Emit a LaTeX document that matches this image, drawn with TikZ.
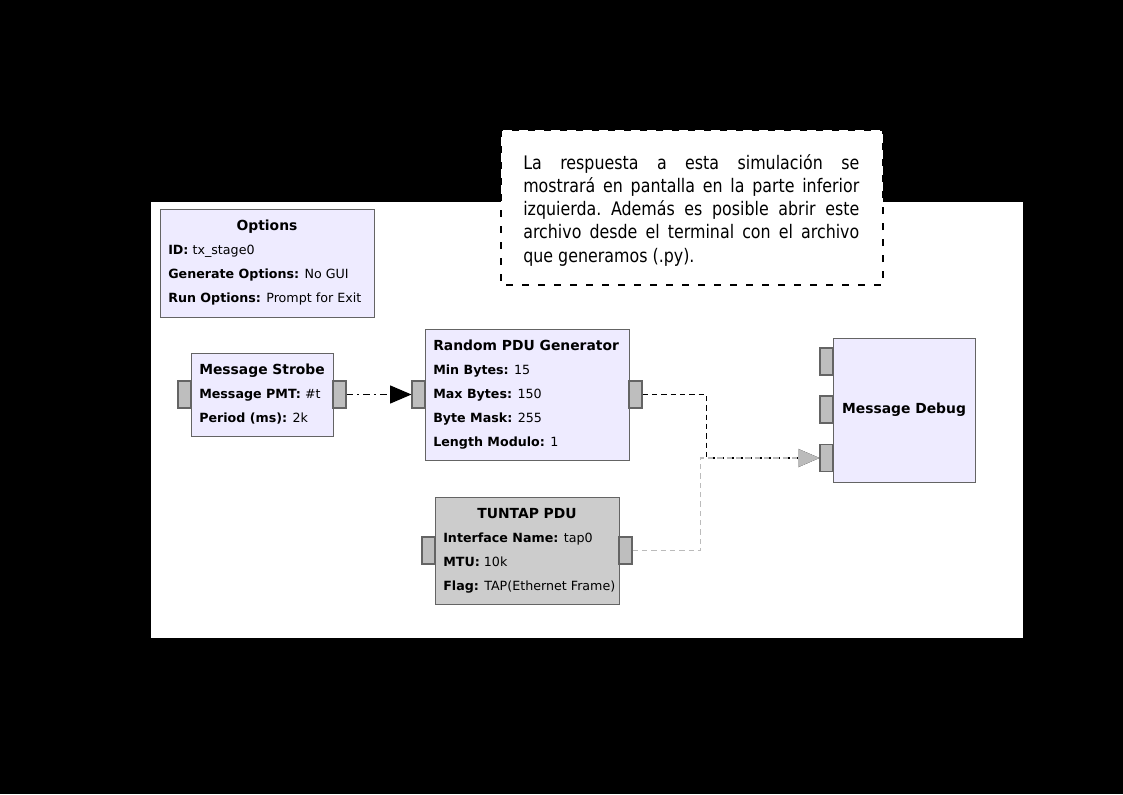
\documentclass[tikz,border=0pt]{standalone}
\usepackage{fontspec}
\setmainfont{DejaVu Sans}
\newfontfamily\notefont[FakeStretch=0.85]{DejaVu Sans}
\usetikzlibrary{arrows.meta,positioning}

\definecolor{blockfill}{RGB}{238,235,255}
\definecolor{tapfill}{RGB}{204,204,204}
\definecolor{portfill}{RGB}{190,190,190}
\definecolor{edgegray}{RGB}{100,100,100}
\definecolor{linkgray}{RGB}{187,187,187}

\begin{document}
\begin{tikzpicture}[x=0.75pt,y=-0.75pt,
		block/.style={draw=edgegray,fill=blockfill,line width=0.9pt,anchor=north west,inner sep=0pt},
		port/.style={draw=edgegray,fill=portfill,line width=0.8pt,minimum width=9.75pt,minimum height=20.25pt,inner sep=0pt},
		param/.style={anchor=base west,inner sep=0pt,font=\fontsize{9.5}{11}\selectfont},
		title/.style={anchor=base west,inner sep=0pt,font=\bfseries\fontsize{10.4}{12}\selectfont},
		tip/.style={-{Triangle[length=16pt,width=13.5pt]}}]
			% page and canvas
			\fill[black] (0,0) rectangle (1123,794);
			\fill[white] (151,202) rectangle (1023,638);
			\useasboundingbox (0,0) rectangle (1123,794);
			
			% blocks
			\node[block,minimum width=160.5pt,minimum height=81pt] (options) at (160,209) {};
			\node[block,minimum width=106.5pt,minimum height=62.25pt] (strobe) at (191,353) {};
			\node[block,minimum width=153pt,minimum height=98.25pt] (gen) at (425,329) {};
			\node[block,fill=tapfill,minimum width=138pt,minimum height=80.25pt] (tap) at (435,497) {};
			\node[block,minimum width=106.5pt,minimum height=108pt] (dbg) at (833,338) {};
			
			% ports
			\node[port] (strobein) at (184.5,394.5) {};
			\node[port] (strobeout) at (339.5,394.5) {};
			\node[port] (genin) at (418.5,394.5) {};
			\node[port] (genout) at (635.5,394.5) {};
			\node[port] (tapin) at (428.5,550.5) {};
			\node[port] (tapout) at (625.5,550.5) {};
			\node[port] (dbga) at (826.5,361.5) {};
			\node[port] (dbgb) at (826.5,409.5) {};
			\node[port] (dbgc) at (826.5,458) {};
			
			% texts
			\node[title,anchor=base] (optionstitle) at (267,230) {Options};
			\node[param] (optionsid) at (168,254) {\textbf{ID:} tx\_stage0};
			\node[param] (optionsgen) at (168,278) {\textbf{Generate Options:} No GUI};
			\node[param] (optionsrun) at (168,302) {\textbf{Run Options:} Prompt for Exit};
			
			\node[title] (strobetitle) at (199,374) {Message Strobe};
			\node[param] (strobepmt) at (199,398) {\textbf{Message PMT:} \#t};
			\node[param] (strobeper) at (199,422) {\textbf{Period (ms):} 2k};
			
			\node[title] (gentitle) at (433,350) {Random PDU Generator};
			\node[param] (genmin) at (433,374) {\textbf{Min Bytes:} 15};
			\node[param] (genmax) at (433,398) {\textbf{Max Bytes:} 150};
			\node[param] (genmask) at (433,422) {\textbf{Byte Mask:} 255};
			\node[param] (genmod) at (433,446) {\textbf{Length Modulo:} 1};
			
			\node[title,anchor=base] (taptitle) at (527,518) {TUNTAP PDU};
			\node[param] (tapname) at (443,542) {\textbf{Interface Name:} tap0};
			\node[param] (tapmtu) at (443,566) {\textbf{MTU:} 10k};
			\node[param] (tapflag) at (443,590) {\textbf{Flag:} TAP(Ethernet Frame)};
			
			\node[title,anchor=base] (dbgtitle) at (904,413) {Message Debug};
			
			% connections
			\draw[tip,line width=0.8pt,dash pattern=on 5pt off 3pt on 1.5pt off 3pt] (strobeout.east) -- (genin.west);
			\draw[tip,line width=0.8pt,dash pattern=on 4pt off 3pt] (genout.east) -- ++(64,0) |- (dbgc.west);
			\draw[tip,linkgray,draw=linkgray,line width=0.8pt,dash pattern=on 4pt off 3pt] (tapout.east) -- ++(68,0) |- (dbgc.west);
			
			% note
			\draw[fill=white,line width=1.5pt,dash pattern=on 5pt off 7pt] (501,130) rectangle (883,285);
			\node[anchor=base west,inner sep=0pt,text width=252pt,align=justify,
				font=\notefont\fontsize{14}{17.45}\selectfont] (note) at (523,169)
				{\frenchspacing La respuesta a esta simulación se\linebreak mostrará en pantalla en la parte inferior\linebreak izquierda. Además es posible abrir este\linebreak archivo desde el terminal con el archivo\linebreak que generamos (.py).};
		\end{tikzpicture}
\end{document}
